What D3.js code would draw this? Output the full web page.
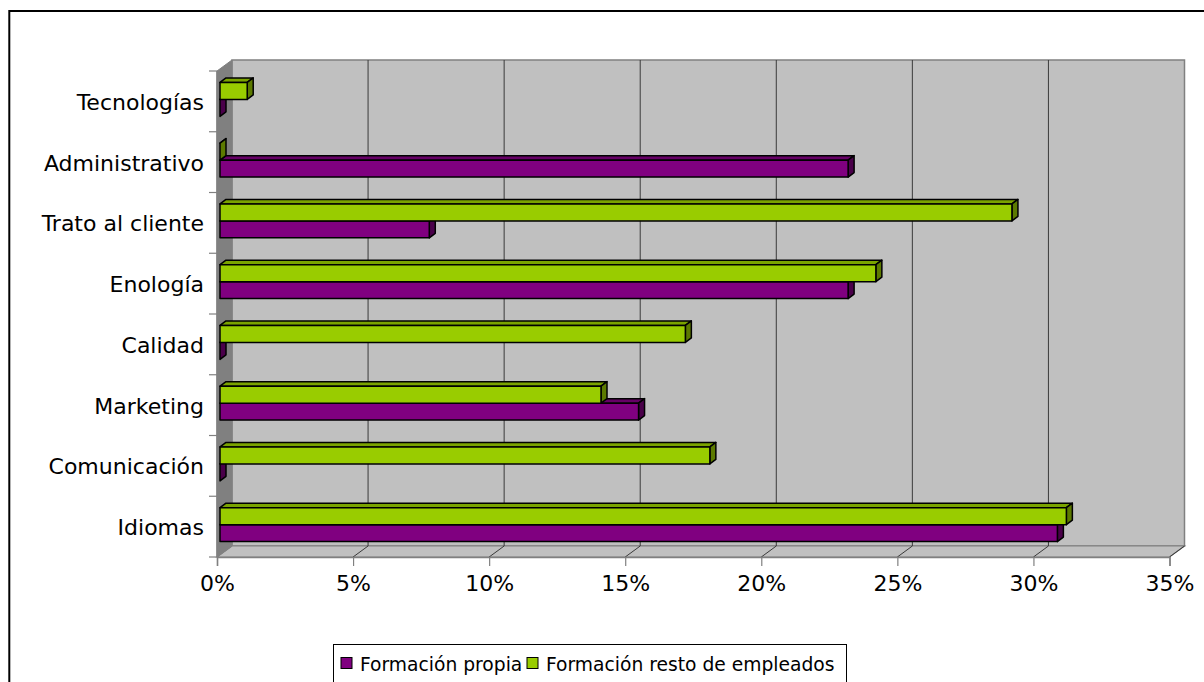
<!DOCTYPE html>
<html>
<head>
<meta charset="utf-8">
<script src="https://cdn.jsdelivr.net/npm/d3@7"></script>
<style>
  html, body { margin: 0; padding: 0; background: #fff; }
  svg { display: block; font-family: "DejaVu Sans", Verdana, sans-serif; }
</style>
</head>
<body>
<svg id="chart" width="1204" height="682"></svg>
<script>
// Categories listed bottom to top
const categories = ["Idiomas", "Comunicación", "Marketing", "Calidad", "Enología", "Trato al cliente", "Administrativo", "Tecnologías"];
const seriesNames = ["Formación propia", "Formación resto de empleados"];
// Percent values per category, same order as categories
const propia = [30.77, 0, 15.38, 0, 23.08, 7.69, 23.08, 0];
const resto  = [31.1, 18.0, 14.0, 17.1, 24.1, 29.1, 0, 1.0];
const xTicks = [0, 5, 10, 15, 20, 25, 30, 35];
const xTickLabels = ["0%", "5%", "10%", "15%", "20%", "25%", "30%", "35%"];

const svg = d3.select("#chart");

// Outer chart frame (continues past the window edges)
svg.append("rect")
  .attr("x", 9.3).attr("y", 11)
  .attr("width", 1300).attr("height", 800)
  .attr("fill", "#fff").attr("stroke", "#000").attr("stroke-width", 2);

// Front plane geometry and depth vector of the 3D box
const frontTop = 71, frontBottom = 557;
const wallDx = 15, wallDy = -11;

const x = d3.scaleLinear().domain([0, 35]).range([217, 1169.5]);
const y = d3.scaleBand().domain(categories).range([frontBottom, frontTop]).padding(0);
const sub = d3.scaleBand().domain(["resto", "propia"]).range([0, y.bandwidth()]).paddingOuter(0.79);

// Walls
const g = svg.append("g");
const x0 = x(0), x1 = x(35);
// back wall
g.append("rect")
  .attr("x", x0 + wallDx).attr("y", frontTop + wallDy)
  .attr("width", x1 - x0).attr("height", frontBottom - frontTop)
  .attr("fill", "#c0c0c0").attr("stroke", "#808080").attr("stroke-width", 1.5);
// floor
g.append("polygon")
  .attr("points", [[x0, frontBottom], [x1, frontBottom], [x1 + wallDx, frontBottom + wallDy], [x0 + wallDx, frontBottom + wallDy]].join(" "))
  .attr("fill", "#c0c0c0").attr("stroke", "#808080").attr("stroke-width", 1.2);
// left side wall
g.append("polygon")
  .attr("points", [[x0, frontTop], [x0 + wallDx, frontTop + wallDy], [x0 + wallDx, frontBottom + wallDy], [x0, frontBottom]].join(" "))
  .attr("fill", "#808080").attr("stroke", "#808080").attr("stroke-width", 1);

// Gridlines on back wall and floor
xTicks.slice(1).forEach(t => {
  const xf = x(t), xb = xf + wallDx;
  if (t < 35) {
    g.append("line")
      .attr("x1", xb).attr("x2", xb)
      .attr("y1", frontTop + wallDy).attr("y2", frontBottom + wallDy)
      .attr("stroke", "#3a3a3a").attr("stroke-width", 1);
  }
  g.append("line")
    .attr("x1", xf).attr("y1", frontBottom)
    .attr("x2", xb).attr("y2", frontBottom + wallDy)
    .attr("stroke", "#3a3a3a").attr("stroke-width", 1);
});

// Axes
const xAxis = d3.axisBottom(x).tickValues(xTicks)
  .tickFormat((d, i) => xTickLabels[i]).tickSize(9).tickPadding(9);
const xg = svg.append("g").attr("transform", `translate(0,${frontBottom})`).call(xAxis);
xg.select(".domain").attr("stroke", "#808080").attr("stroke-width", 1.5);
xg.selectAll(".tick line").attr("stroke", "#808080").attr("stroke-width", 1.2);
xg.selectAll(".tick text").attr("fill", "#000").attr("font-size", 22)
  .attr("font-family", "DejaVu Sans, Verdana, sans-serif");

const yEdges = d3.range(categories.length + 1).map(i => frontBottom - i * y.step());
const yg = svg.append("g");
yg.append("line").attr("x1", x0).attr("x2", x0).attr("y1", frontTop).attr("y2", frontBottom)
  .attr("stroke", "#808080").attr("stroke-width", 1.5);
yEdges.forEach(v => {
  yg.append("line").attr("x1", x0 - 8).attr("x2", x0).attr("y1", v).attr("y2", v)
    .attr("stroke", "#808080").attr("stroke-width", 1.2);
});
yg.selectAll("text").data(categories).join("text")
  .attr("x", 204)
  .attr("y", d => y(d) + y.bandwidth() / 2 + 1)
  .attr("text-anchor", "end")
  .attr("dominant-baseline", "central")
  .attr("font-size", 22)
  .attr("fill", "#000")
  .text(d => d);

// 3D bars: front face sits slightly inside the box, with a shallow depth
const barOff = { dx: 3, dy: -2 };
const barDepth = { dx: 6, dy: -4.5 };
const colors = {
  propia: { front: "#800080", top: "#660066", side: "#4a004a" },
  resto:  { front: "#99cc00", top: "#7aa300", side: "#5c7a00" }
};

const rows = [];
categories.forEach((c, i) => {
  rows.push({ cat: c, key: "propia", value: propia[i] });
  rows.push({ cat: c, key: "resto", value: resto[i] });
});

const bars = svg.append("g").selectAll("g").data(rows).join("g");
bars.each(function (d) {
  const el = d3.select(this);
  const xs = x(0) + barOff.dx;
  const xe = x(d.value) + barOff.dx;
  const yt = y(d.cat) + sub(d.key) + barOff.dy;
  const yb = yt + sub.bandwidth();
  const c = colors[d.key];
  const stroke = { stroke: "#000", "stroke-width": 1.5, "stroke-linejoin": "round" };
  const top = el.append("polygon")
    .attr("points", [[xs, yt], [xs + barDepth.dx, yt + barDepth.dy], [xe + barDepth.dx, yt + barDepth.dy], [xe, yt]].join(" "))
    .attr("fill", c.top);
  const side = el.append("polygon")
    .attr("points", [[xe, yt], [xe + barDepth.dx, yt + barDepth.dy], [xe + barDepth.dx, yb + barDepth.dy], [xe, yb]].join(" "))
    .attr("fill", c.side);
  const front = el.append("rect")
    .attr("x", xs).attr("y", yt)
    .attr("width", Math.max(0, xe - xs)).attr("height", yb - yt)
    .attr("fill", c.front);
  [top, side, front].forEach(s => Object.entries(stroke).forEach(([k, v]) => s.attr(k, v)));
});

// Legend
const legend = svg.append("g");
legend.append("rect")
  .attr("x", 333.5).attr("y", 644.5).attr("width", 513).attr("height", 38)
  .attr("fill", "#fff").attr("stroke", "#000").attr("stroke-width", 1);
const legendItems = [
  { name: seriesNames[0], color: colors.propia.front, sx: 341, tx: 360 },
  { name: seriesNames[1], color: colors.resto.front, sx: 527, tx: 546 }
];
legendItems.forEach(it => {
  legend.append("rect")
    .attr("x", it.sx).attr("y", 657.5).attr("width", 11).attr("height", 11)
    .attr("fill", it.color).attr("stroke", "#000").attr("stroke-width", 1);
  legend.append("text")
    .attr("x", it.tx).attr("y", 670.5)
    .attr("font-size", 18.7).attr("fill", "#000")
    .text(it.name);
});
</script>
</body>
</html>
